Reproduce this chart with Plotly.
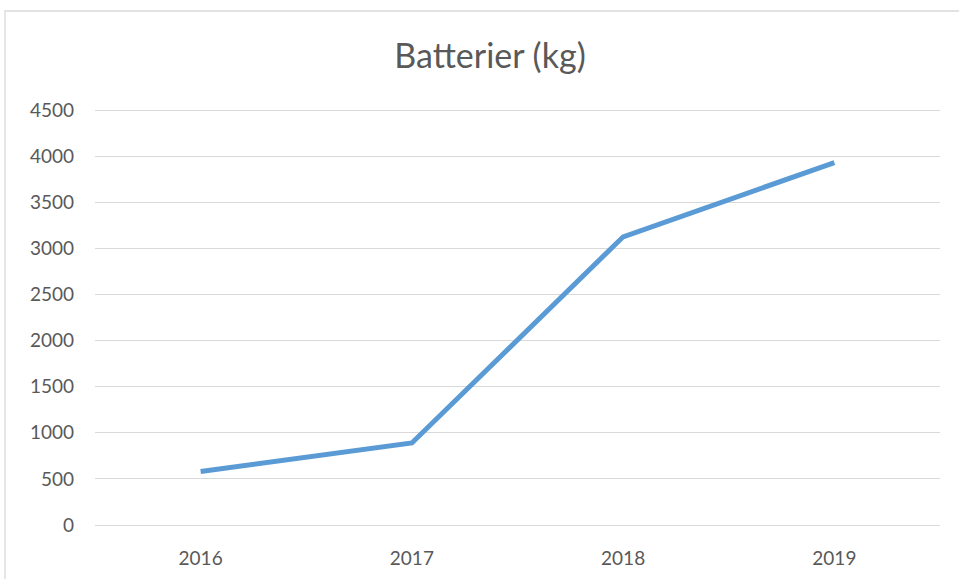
import plotly.graph_objects as go

years = ["2016", "2017", "2018", "2019"]
batterier_kg = [580, 890, 3125, 3930]
y_ticks = [0, 500, 1000, 1500, 2000, 2500, 3000, 3500, 4000, 4500]

W, H = 959, 579
PAD = 10  # pixels of padding above/below the 0..4500 band so edge gridlines show
L, R, T, B = 95, 19, 110 - PAD, 54 - PAD
pw, ph = W - L - R, H - T - B
units_per_px = 4500 / (ph - 2 * PAD)
y_lo, y_hi = -PAD * units_per_px, 4500 + PAD * units_per_px

def px_x(p):
    return (p - L) / pw

def px_y(p):
    return (H - B - p) / ph

fig = go.Figure()
fig.add_trace(go.Scatter(
    x=years, y=batterier_kg, mode="lines",
    line=dict(color="#5B9BD5", width=5),
    hoverinfo="x+y",
))

fig.update_layout(
    width=W, height=H,
    margin=dict(l=L, r=R, t=T, b=B, autoexpand=False),
    paper_bgcolor="white", plot_bgcolor="white",
    showlegend=False,
    font=dict(family="Lato, Open Sans, sans-serif", color="#595959"),
    title=dict(text="Batterier (kg)", x=490 / W, xanchor="center",
               y=1 - 56 / H, yanchor="middle",
               font=dict(size=34, color="#595959")),
    xaxis=dict(type="category", range=[-0.5, 3.5], showgrid=False,
               showline=False, zeroline=False, ticks="", automargin=False,
               ticklabelstandoff=10,
               tickfont=dict(size=19, color="#595959")),
    yaxis=dict(range=[y_lo, y_hi], tickvals=y_ticks, showgrid=True,
               gridcolor="#D9D9D9", gridwidth=1.3, zeroline=False,
               showline=False, ticks="", automargin=False,
               ticklabelstandoff=20,
               tickfont=dict(size=19, color="#595959")),
    shapes=[dict(type="rect", xref="paper", yref="paper",
                 x0=px_x(5), x1=px_x(962), y0=px_y(600), y1=px_y(11),
                 line=dict(color="#D9D9D9", width=1.3), layer="below")],
)

fig.write_html("out.html", config={"displayModeBar": False},
               post_script="document.body.style.margin='0';")
